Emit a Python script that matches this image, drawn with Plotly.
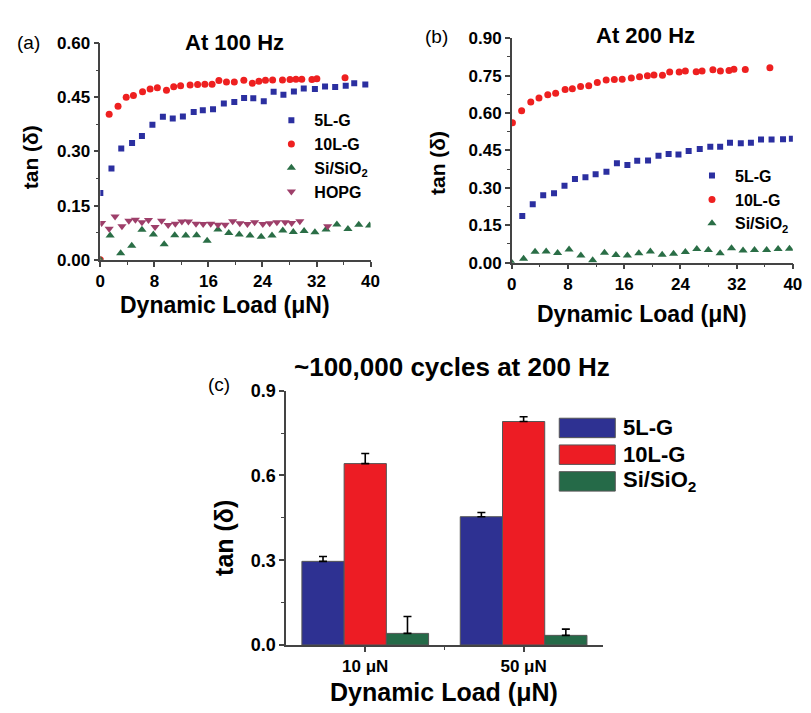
import plotly.graph_objects as go

# ---------------- data ----------------
# Panel (a): At 100 Hz
a5_x = [0.0, 1.65, 3.10, 4.70, 6.16, 7.71, 9.26, 10.72, 12.22, 13.82, 15.17, 16.68, 18.28, 19.83,
        21.28, 22.64, 24.19, 25.65, 27.10, 28.65, 30.11, 31.76, 33.26, 34.76, 36.32, 37.58, 39.22]
a5_y = [0.185, 0.253, 0.308, 0.323, 0.343, 0.374, 0.396, 0.391, 0.397, 0.409, 0.414, 0.417, 0.433, 0.437,
        0.448, 0.447, 0.439, 0.465, 0.457, 0.466, 0.474, 0.473, 0.480, 0.478, 0.482, 0.489, 0.485]
a10_x = [0.0, 1.31, 2.62, 3.83, 4.90, 6.25, 7.37, 8.44, 9.79, 10.86, 11.88, 13.29, 14.40, 15.47, 16.54,
         17.55, 18.67, 19.83, 21.24, 22.50, 23.47, 24.44, 25.50, 26.96, 28.07, 28.95, 29.82, 31.32,
         32.05, 36.22]
a10_y = [0.0, 0.403, 0.425, 0.450, 0.455, 0.465, 0.473, 0.476, 0.469, 0.479, 0.482, 0.484, 0.485, 0.486,
         0.486, 0.496, 0.492, 0.492, 0.497, 0.489, 0.494, 0.497, 0.498, 0.498, 0.499, 0.500, 0.500,
         0.499, 0.501, 0.504]
asi_x = [0.0, 1.45, 3.01, 4.65, 6.16, 7.85, 9.45, 11.01, 12.65, 14.25, 15.81, 17.41, 19.01, 20.56, 22.16,
         23.81, 25.41, 27.01, 28.56, 30.16, 31.76, 33.41, 35.01, 36.65, 38.25, 39.85]
asi_y = [0.0, 0.067, 0.018, 0.039, 0.083, 0.070, 0.043, 0.068, 0.067, 0.068, 0.053, 0.084, 0.074, 0.070,
         0.067, 0.064, 0.067, 0.081, 0.077, 0.080, 0.076, 0.084, 0.098, 0.085, 0.097, 0.095]
ahopg_x = [0.19, 1.31, 2.18, 3.20, 4.22, 5.19, 6.16, 7.13, 8.10, 9.07, 10.04, 11.10, 12.07, 13.04, 14.16,
           15.22, 16.34, 17.41, 18.47, 19.59, 20.65, 21.77, 22.84, 24.05, 25.07, 26.13, 27.35, 28.32,
           29.53, 33.65]
ahopg_y = [0.102, 0.086, 0.120, 0.093, 0.108, 0.111, 0.104, 0.110, 0.091, 0.108, 0.096, 0.100, 0.106,
           0.106, 0.100, 0.099, 0.100, 0.097, 0.097, 0.107, 0.101, 0.099, 0.104, 0.099, 0.101, 0.104,
           0.104, 0.102, 0.107, 0.093]

# Panel (b): At 200 Hz
b5_x = [1.49, 2.98, 4.47, 6.01, 7.50, 8.99, 10.48, 11.93, 13.47, 14.96, 16.45, 17.85, 19.39, 20.88,
        22.32, 23.72, 25.17, 26.75, 28.25, 29.65, 31.05, 32.59, 34.03, 35.47, 36.97, 38.60, 39.86]
b5_y = [0.187, 0.234, 0.270, 0.278, 0.308, 0.336, 0.343, 0.355, 0.365, 0.399, 0.392, 0.409, 0.410, 0.429,
        0.436, 0.434, 0.448, 0.456, 0.465, 0.465, 0.481, 0.479, 0.481, 0.494, 0.494, 0.495, 0.497]
b10_x = [0.09, 1.40, 2.70, 3.87, 5.12, 6.24, 7.59, 8.62, 9.79, 10.95, 12.17, 13.43, 14.59, 15.71, 17.01,
         18.18, 19.30, 20.23, 21.44, 22.47, 23.82, 24.70, 26.24, 27.08, 28.62, 29.69, 30.91, 31.61,
         33.23, 36.73]
b10_y = [0.561, 0.609, 0.644, 0.660, 0.673, 0.679, 0.694, 0.697, 0.706, 0.709, 0.722, 0.732, 0.734,
         0.735, 0.740, 0.745, 0.749, 0.752, 0.751, 0.764, 0.764, 0.768, 0.765, 0.768, 0.773, 0.768,
         0.770, 0.775, 0.774, 0.782]
bsi_x = [0.0, 1.68, 3.31, 4.89, 6.52, 8.15, 9.83, 11.51, 13.19, 14.82, 16.45, 18.08, 19.72, 21.40,
         23.02, 24.70, 26.33, 27.97, 29.65, 31.27, 32.91, 34.54, 36.27, 37.90, 39.52]
bsi_y = [0.0, 0.016, 0.044, 0.045, 0.039, 0.053, 0.029, 0.010, 0.040, 0.031, 0.029, 0.038, 0.045, 0.032,
         0.036, 0.043, 0.055, 0.051, 0.038, 0.058, 0.049, 0.051, 0.051, 0.055, 0.056]

# Panel (c): ~100,000 cycles at 200 Hz
c_pos = [0, 1]
c_labels = ["10 μN", "50 μN"]
c5_val = [0.296, 0.454]
c5_err = [0.017, 0.015]
c10_val = [0.642, 0.791]
c10_err = [0.036, 0.017]
csi_val = [0.041, 0.034]
csi_err = [0.060, 0.022]

names = ["5L-G", "10L-G", "Si/SiO<sub>2</sub>", "HOPG"]

# ---------------- style ----------------
FONT = "Liberation Sans, Arial, sans-serif"
BLUE = "#2B2FA0"
RED = "#EE2020"
GREEN = "#2A6E46"
MAROON = "#9E3F6A"
BAR_BLUE = "#2E3192"
BAR_RED = "#ED1C24"
BAR_GREEN = "#256A48"
W, H = 811, 713


def X(p):
    return p / W


def Y(p):
    return 1 - p / H


fig = go.Figure()

# (a)
fig.add_trace(go.Scatter(x=a5_x, y=a5_y, mode="markers", name=names[0], legend="legend",
                         marker=dict(symbol="square", size=6, color=BLUE), xaxis="x", yaxis="y"))
fig.add_trace(go.Scatter(x=a10_x, y=a10_y, mode="markers", name=names[1], legend="legend",
                         marker=dict(symbol="circle", size=7, color=RED), xaxis="x", yaxis="y"))
fig.add_trace(go.Scatter(x=asi_x, y=asi_y, mode="markers", name=names[2], legend="legend",
                         marker=dict(symbol="triangle-up", size=8, color=GREEN), xaxis="x", yaxis="y"))
fig.add_trace(go.Scatter(x=ahopg_x, y=ahopg_y, mode="markers", name=names[3], legend="legend",
                         marker=dict(symbol="triangle-down", size=8, color=MAROON), xaxis="x", yaxis="y"))
# (b)
fig.add_trace(go.Scatter(x=b5_x, y=b5_y, mode="markers", name=names[0], legend="legend2",
                         marker=dict(symbol="square", size=6, color=BLUE), xaxis="x2", yaxis="y2"))
fig.add_trace(go.Scatter(x=b10_x, y=b10_y, mode="markers", name=names[1], legend="legend2",
                         marker=dict(symbol="circle", size=7, color=RED), xaxis="x2", yaxis="y2"))
fig.add_trace(go.Scatter(x=bsi_x, y=bsi_y, mode="markers", name=names[2], legend="legend2",
                         marker=dict(symbol="triangle-up", size=8, color=GREEN), xaxis="x2", yaxis="y2"))
# (c)
for vals, errs, col, nm in [(c5_val, c5_err, BAR_BLUE, names[0]),
                            (c10_val, c10_err, BAR_RED, names[1]),
                            (csi_val, csi_err, BAR_GREEN, names[2])]:
    fig.add_trace(go.Bar(x=c_pos, y=vals, name=nm, showlegend=False, xaxis="x3", yaxis="y3",
                         marker=dict(color=col, line=dict(color="#555555", width=1)),
                         error_y=dict(type="data", symmetric=False, array=errs, arrayminus=[0] * len(errs),
                                      color="black", thickness=1.6, width=4)))


def axis_common(size):
    return dict(showline=True, linecolor="#444444", linewidth=1.5, ticks="outside", ticklen=5,
                tickwidth=1.5, tickcolor="#444444", showgrid=False, zeroline=False,
                tickfont=dict(family=FONT, size=size, color="black", weight="bold"))


def minor(dt=None, vals=None):
    d = dict(ticks="outside", ticklen=3, tickwidth=1.2, tickcolor="#444444", showgrid=False)
    if dt is not None:
        d["dtick"] = dt
    if vals is not None:
        d["tickmode"] = "array"
        d["tickvals"] = vals
    return d


fig.update_layout(
    width=W, height=H, margin=dict(l=0, r=0, t=0, b=0),
    paper_bgcolor="white", plot_bgcolor="white",
    barmode="group", bargap=0.2, bargroupgap=0,
    xaxis=dict(axis_common(17), domain=[X(97), X(372)], range=[0, 40], dtick=8, minor=minor(4), anchor="y"),
    yaxis=dict(axis_common(17), domain=[Y(257), Y(34)], range=[0, 0.6], dtick=0.15, tickformat=".2f",
               minor=minor(0.075), anchor="x"),
    xaxis2=dict(axis_common(17), domain=[X(515.7), X(801.7)], range=[0, 40], dtick=8, minor=minor(4),
                anchor="y2"),
    yaxis2=dict(axis_common(17), domain=[Y(260), Y(29)], range=[0, 0.9], dtick=0.15, tickformat=".2f",
                minor=minor(0.075), anchor="x2"),
    xaxis3=dict(axis_common(17), domain=[X(286), X(608.3)], range=[-0.5, 1.5], tickmode="array",
                tickvals=c_pos, ticktext=c_labels, minor=minor(vals=[0.5]), anchor="y3"),
    yaxis3=dict(axis_common(18), domain=[Y(653.3), Y(391.7)], range=[0, 0.9], dtick=0.3, tickformat=".1f",
                minor=minor(0.15), anchor="x3"),
    legend=dict(x=X(268), y=Y(96), xanchor="left", yanchor="top", bgcolor="rgba(0,0,0,0)",
                font=dict(family=FONT, size=16, color="black", weight="bold"), tracegroupgap=0,
                itemwidth=36),
    legend2=dict(x=X(696), y=Y(153), xanchor="left", yanchor="top", bgcolor="rgba(0,0,0,0)",
                 font=dict(family=FONT, size=16, color="black", weight="bold"), tracegroupgap=0,
                 itemwidth=36),
)

ann = []


def txt(x, y, s, size, bold=True, angle=0):
    ann.append(dict(x=X(x), y=Y(y), xref="paper", yref="paper", text=s, showarrow=False,
                    xanchor="center", yanchor="middle", textangle=angle,
                    font=dict(family=FONT, size=size, color="black", weight="bold" if bold else "normal")))


# panel labels
txt(24, 33, "(a)", 19, bold=False)
txt(439, 27, "(b)", 19, bold=False)
txt(218, 385, "(c)", 19, bold=False)
# titles
txt(234, 33, "At 100 Hz", 22)
txt(652, 26, "At 200 Hz", 22)
txt(455, 367, "~100,000 cycles at 200 Hz", 26)
# axis titles
txt(26, 152, "tan (δ)", 21, angle=-90)
txt(440, 157, "tan (δ)", 21, angle=-90)
txt(223, 543, "tan (δ)", 25, angle=-90)
txt(224, 303, "Dynamic Load (μN)", 23)
txt(648, 313, "Dynamic Load (μN)", 23)
txt(447, 702, "Dynamic Load (μN)", 25)

# legend for panel (c): colored keys + labels (styled from the series colours / names)
shapes = []
for i, (col, nm) in enumerate([(BAR_BLUE, names[0]), (BAR_RED, names[1]), (BAR_GREEN, names[2])]):
    y0 = 420 + i * 27.5
    shapes.append(dict(type="rect", xref="paper", yref="paper", x0=X(564), x1=X(621), y0=Y(y0 + 20), y1=Y(y0),
                       fillcolor=col, line=dict(color="#555555", width=1)))
    ann.append(dict(x=X(627), y=Y(y0 + 10), xref="paper", yref="paper", text=nm, showarrow=False,
                    xanchor="left", yanchor="middle",
                    font=dict(family=FONT, size=22, color="black", weight="bold")))

fig.update_layout(annotations=ann, shapes=shapes)
fig.write_html("out.html", config={"displayModeBar": False},
               post_script="document.body.style.margin='0';document.body.style.overflow='hidden';")
